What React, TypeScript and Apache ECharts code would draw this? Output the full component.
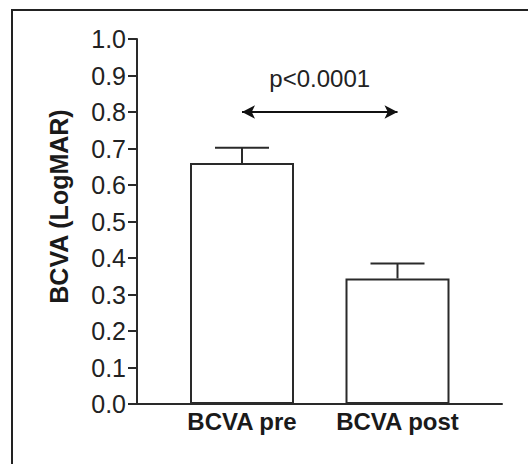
import React, { useEffect, useRef } from "react";
import * as echarts from "echarts";

const categories = ["BCVA pre", "BCVA post"];
const meanValues = [0.66, 0.344];
const errorTops = [0.702, 0.385];
const yTicks = [0, 0.1, 0.2, 0.3, 0.4, 0.5, 0.6, 0.7, 0.8, 0.9, 1.0];
const pLabel = "p<0.0001";
const arrowLevel = 0.8;
const yTitle = "BCVA (LogMAR)";

const INK = "#2a2a2a";
const FONT = "'Liberation Sans', Arial, sans-serif";

export default function App() {
  const ref = useRef<HTMLDivElement>(null);
  useEffect(() => {
    if (!ref.current) return;
    const chart = echarts.init(ref.current, undefined, { renderer: "svg" });
    const errData = categories.map((c, i) => [i, meanValues[i], errorTops[i]]);
    chart.setOption({
      animation: false,
      backgroundColor: "#ffffff",
      textStyle: { fontFamily: FONT },
      grid: [
        { left: 137, right: 26, top: 39, bottom: 60 },
        { left: 164.25, right: 52.75, top: 39, bottom: 60 },
      ],
      xAxis: [
        {
          type: "category",
          gridIndex: 0,
          data: categories,
          axisLine: { show: true, lineStyle: { color: INK, width: 2 } },
          axisTick: { show: false },
          axisLabel: { show: false },
        },
        {
          type: "category",
          gridIndex: 1,
          data: categories,
          axisLine: { show: false },
          axisTick: { show: false },
          axisLabel: {
            show: true,
            interval: 0,
            hideOverlap: false,
            margin: 5,
            color: "#1a1a1a",
            fontSize: 24,
            fontWeight: "bold",
            fontFamily: FONT,
          },
        },
      ],
      yAxis: [
        {
          type: "value",
          gridIndex: 0,
          min: yTicks[0],
          max: yTicks[yTicks.length - 1],
          interval: 0.1,
          splitLine: { show: false },
          axisLine: { show: true, lineStyle: { color: INK, width: 2 } },
          axisTick: { show: true, length: 9, lineStyle: { color: INK, width: 2 } },
          axisLabel: {
            margin: 11,
            color: "#222",
            fontSize: 25,
            fontFamily: FONT,
            formatter: (v: number) => v.toFixed(1),
          },
          name: yTitle,
          nameLocation: "middle",
          nameGap: 66,
          nameRotate: 90,
          nameTextStyle: {
            color: "#1a1a1a",
            fontSize: 25,
            fontWeight: "bold",
            fontFamily: FONT,
            padding: [0, 0, 0, 30],
          },
        },
        {
          type: "value",
          gridIndex: 1,
          min: 0,
          max: 1,
          show: false,
        },
      ],
      series: [
        {
          type: "bar",
          xAxisIndex: 1,
          yAxisIndex: 1,
          data: meanValues,
          barWidth: 104,
          itemStyle: { color: "#ffffff", borderColor: INK, borderWidth: 2 },
          markLine: {
            silent: true,
            symbol: ["arrow", "arrow"],
            symbolSize: [10, 13],
            lineStyle: { color: "#111", width: 2, type: "solid" },
            label: {
              show: true,
              position: "middle",
              formatter: pLabel,
              distance: 22,
              color: "#222",
              fontSize: 24,
              fontFamily: FONT,
            },
            data: [
              [
                { coord: [categories[0], arrowLevel] },
                { coord: [categories[1], arrowLevel] },
              ],
            ],
          },
        },
        {
          type: "custom",
          xAxisIndex: 1,
          yAxisIndex: 1,
          data: errData,
          z: 5,
          renderItem: (params: any, api: any) => {
            const x = api.value(0);
            const base = api.coord([x, api.value(1)]);
            const top = api.coord([x, api.value(2)]);
            const half = 27;
            return {
              type: "group",
              children: [
                {
                  type: "line",
                  shape: { x1: base[0], y1: base[1], x2: top[0], y2: top[1] },
                  style: { stroke: INK, lineWidth: 2 },
                },
                {
                  type: "line",
                  shape: { x1: top[0] - half, y1: top[1], x2: top[0] + half, y2: top[1] },
                  style: { stroke: INK, lineWidth: 2 },
                },
              ],
            };
          },
        },
      ],
      graphic: [
        {
          type: "rect",
          shape: { x: 12, y: 10, width: 700, height: 700 },
          style: { fill: "none", stroke: "#222", lineWidth: 2 },
          silent: true,
          z: 100,
        },
      ],
    });
    return () => chart.dispose();
  }, []);
  return (
    <div
      ref={ref}
      style={{ position: "fixed", left: 0, top: 0, width: 528, height: 464, background: "#fff" }}
    />
  );
}
